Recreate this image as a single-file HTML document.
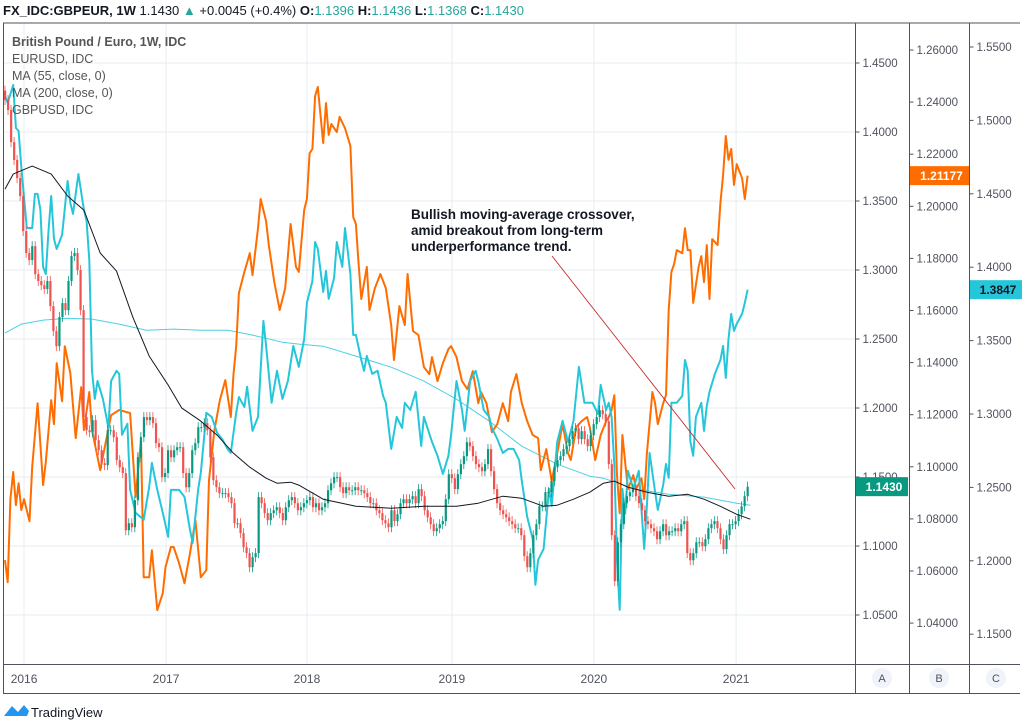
<!DOCTYPE html>
<html><head><meta charset="utf-8"><style>
html,body{margin:0;padding:0;background:#fff;}
svg{display:block;font-family:"Liberation Sans",sans-serif;}
</style></head><body>
<svg id="chart" width="1024" height="723" viewBox="0 0 1024 723">
<g id="grid"></g>
<g id="series"></g>
<g id="frame">
 <line x1="3" y1="23" x2="1020" y2="23" stroke="#50535e"/>
 <line x1="3.5" y1="23" x2="3.5" y2="693" stroke="#50535e"/>
 <line x1="855.5" y1="23" x2="855.5" y2="693" stroke="#50535e"/>
 <line x1="909.5" y1="23" x2="909.5" y2="693" stroke="#50535e"/>
 <line x1="969.5" y1="23" x2="969.5" y2="693" stroke="#50535e"/>
 <line x1="3" y1="664.5" x2="1020" y2="664.5" stroke="#50535e"/>
 <line x1="3" y1="693.5" x2="1020" y2="693.5" stroke="#50535e"/>
</g>
<g id="axes"></g>
<text x="3" y="15" font-size="13" fill="#131722"><tspan font-weight="bold">FX_IDC:GBPEUR, 1W</tspan> 1.1430 <tspan fill="#26a69a">▲</tspan> +0.0045 (+0.4%) <tspan font-weight="bold">O:</tspan><tspan fill="#26a69a">1.1396</tspan> <tspan font-weight="bold">H:</tspan><tspan fill="#26a69a">1.1436</tspan> <tspan font-weight="bold">L:</tspan><tspan fill="#26a69a">1.1368</tspan> <tspan font-weight="bold">C:</tspan><tspan fill="#26a69a">1.1430</tspan></text>
<g font-size="12.5" fill="#555">
 <text x="12" y="46" font-weight="bold">British Pound / Euro, 1W, IDC</text>
 <text x="12" y="63">EURUSD, IDC</text>
 <text x="12" y="80">MA (55, close, 0)</text>
 <text x="12" y="97">MA (200, close, 0)</text>
 <text x="12" y="114">GBPUSD, IDC</text>
</g>
<g font-size="13.5" font-weight="bold" fill="#131722">
 <text x="411" y="219">Bullish moving-average crossover,</text>
 <text x="411" y="235">amid breakout from long-term</text>
 <text x="411" y="251">underperformance trend.</text>
 <line x1="552" y1="256" x2="735" y2="489" stroke="#c62828" stroke-width="0.9"/>
</g>
<g font-size="11" fill="#50535e" text-anchor="middle">
 <circle cx="882" cy="678" r="10" fill="#f0f3fa"/><text x="882" y="682">A</text>
 <circle cx="939" cy="678" r="10" fill="#f0f3fa"/><text x="939" y="682">B</text>
 <circle cx="996" cy="678" r="10" fill="#f0f3fa"/><text x="996" y="682">C</text>
</g>
<g>
 <path d="M4 716 L12 706 L18 712 L24 705 L29 711 L27 716 Z" fill="#2196f3"/>
 <text x="31" y="717" font-size="13" fill="#131722">TradingView</text>
</g>
</svg>
<script>
// ---- data ----
const yearLabels = ["2016","2017","2018","2019","2020","2021"];
const yearWeeks = [7,59.2,111,164.3,216.5,268.8];
const ticksA = [1.45,1.40,1.35,1.30,1.25,1.20,1.15,1.10,1.05];
const ticksB = [1.26,1.24,1.22,1.20,1.18,1.16,1.14,1.12,1.10,1.08,1.06,1.04];
const ticksC = [1.55,1.50,1.45,1.40,1.35,1.30,1.25,1.20,1.15];
const gbpeurCloses = [1.4232,1.4159,1.3927,1.3797,1.3666,1.3536,1.3282,1.3123,1.3072,1.3173,1.2970,1.2920,1.2890,1.2862,1.2920,1.2738,1.2557,1.2448,1.2659,1.2760,1.2709,1.2920,1.3101,1.3123,1.2999,1.2709,1.1934,1.1839,1.1825,1.1912,1.1767,1.1694,1.1600,1.1586,1.1839,1.1839,1.1789,1.1622,1.1571,1.1528,1.1114,1.1165,1.1136,1.1332,1.1643,1.1789,1.1934,1.1912,1.1934,1.1890,1.1745,1.1716,1.1499,1.1528,1.1694,1.1643,1.1694,1.1716,1.1716,1.1528,1.1426,1.1528,1.1694,1.1745,1.1861,1.1861,1.1890,1.1839,1.1643,1.1477,1.1426,1.1383,1.1383,1.1383,1.1354,1.1310,1.1165,1.1165,1.1093,1.0991,1.0948,1.0846,1.0919,1.0948,1.1354,1.1310,1.1238,1.1187,1.1238,1.1259,1.1281,1.1238,1.1187,1.1281,1.1332,1.1354,1.1310,1.1259,1.1281,1.1310,1.1332,1.1354,1.1281,1.1310,1.1259,1.1281,1.1310,1.1404,1.1455,1.1499,1.1499,1.1426,1.1383,1.1426,1.1404,1.1404,1.1426,1.1404,1.1404,1.1383,1.1354,1.1310,1.1310,1.1259,1.1238,1.1187,1.1165,1.1136,1.1259,1.1180,1.1230,1.1310,1.1339,1.1310,1.1339,1.1361,1.1310,1.1412,1.1361,1.1259,1.1208,1.1158,1.1107,1.1129,1.1158,1.1180,1.1339,1.1520,1.1491,1.1412,1.1520,1.1593,1.1651,1.1752,1.1723,1.1651,1.1593,1.1571,1.1542,1.1593,1.1702,1.1542,1.1412,1.1310,1.1259,1.1230,1.1208,1.1180,1.1158,1.1129,1.1129,1.1078,1.0926,1.0846,1.0948,1.1078,1.1158,1.1288,1.1288,1.1390,1.1390,1.1470,1.1571,1.1622,1.1651,1.1702,1.1723,1.1774,1.1832,1.1854,1.1774,1.1832,1.1774,1.1723,1.1803,1.1883,1.1934,1.1984,1.1955,1.1904,1.1593,1.1078,1.0745,1.1027,1.1158,1.1310,1.1361,1.1390,1.1412,1.1361,1.1310,1.1259,1.1180,1.1158,1.1129,1.1107,1.1049,1.1107,1.1158,1.1078,1.1107,1.1107,1.1129,1.1107,1.1158,1.1180,1.0948,1.0897,1.0948,1.1027,1.1027,1.0998,1.1049,1.1129,1.1158,1.1180,1.1129,1.1049,1.0977,1.1078,1.1158,1.1158,1.1180,1.1230,1.1288,1.1361,1.1430];
const gbpeurFirstOpen = 1.4300;
const eurusdWeeks = [0,1,2,3,4,5,6,7,9,10,12,14,15,17,18,19,21,22,24,26,28,29,31,32,35,39,42,46,48,50,51,53,54,56,58,59,61,62,64,66,68,70,72,74,75,77,79,81,83,84,85,86,88,90,91,93,94,96,97,99,101,103,105,107,108,110,111,112,113,114,115,117,118,119,120,122,123,125,127,128,129,130,131,133,134,136,138,140,142,143,145,147,148,150,152,154,156,157,159,161,163,164,166,168,170,172,174,175,177,179,181,183,185,186,188,190,192,194,196,197,199,201,203,205,207,208,210,212,214,215,217,219,221,222,223,224,225,226,227,229,231,232,234,235,236,238,239,240,242,243,244,245,246,247,249,250,251,252,253,255,256,257,258,259,260,262,263,264,265,266,267,268,269,271,272,273];
const eurusdValues = [1.0642,1.0557,1.0876,1.0980,1.0853,1.0937,1.0834,1.0876,1.0791,1.0999,1.1244,1.0930,1.1018,1.1256,1.1164,1.1398,1.1252,1.1463,1.1360,1.1110,1.1306,1.1141,1.1287,1.1141,1.0987,1.1198,1.1218,1.1206,1.0884,1.1102,1.0576,1.0576,1.0680,1.0450,1.0515,1.0615,1.0692,1.0692,1.0630,1.0553,1.0668,1.0795,1.0576,1.0603,1.0949,1.1141,1.1256,1.1333,1.1191,1.1356,1.1463,1.1667,1.1748,1.1820,1.1736,1.1916,1.2028,1.1943,1.1851,1.1709,1.1602,1.1686,1.1932,1.1767,1.1748,1.1986,1.2028,1.2204,1.2220,1.2423,1.2458,1.2243,1.2396,1.2274,1.2316,1.2285,1.2343,1.2300,1.2231,1.1959,1.1932,1.1778,1.1644,1.1767,1.1602,1.1686,1.1740,1.1686,1.1544,1.1410,1.1617,1.1544,1.1740,1.1521,1.1506,1.1383,1.1356,1.1421,1.1329,1.1398,1.1452,1.1463,1.1421,1.1329,1.1298,1.1367,1.1244,1.1287,1.1244,1.1133,1.1164,1.1244,1.1175,1.1287,1.1356,1.1244,1.1175,1.1122,1.1110,1.0987,1.1068,1.0945,1.1052,1.1164,1.1052,1.1026,1.1152,1.1175,1.1191,1.1152,1.1026,1.1122,1.1175,1.1191,1.1218,1.1275,1.0968,1.0822,1.1122,1.0914,1.0968,1.0914,1.0956,1.0876,1.1052,1.1287,1.1244,1.1164,1.1244,1.1275,1.1602,1.1748,1.1778,1.1832,1.1820,1.1916,1.1832,1.1832,1.1629,1.1767,1.1809,1.1709,1.1851,1.1644,1.1874,1.1851,1.2012,1.2120,1.2270,1.2178,1.2220,1.2082,1.2162,1.2108,1.2028,1.2118];
const gbpusdWeeks = [0,1,3,4,5,6,8,10,11,12,13,14,15,16,17,18,19,21,23,24,25,27,29,30,31,32,33,34,36,38,39,41,42,43,45,46,48,51,53,54,56,58,60,61,62,64,66,68,69,71,72,73,74,76,78,80,82,83,85,86,88,89,91,93,95,96,98,100,102,104,106,108,110,111,113,114,115,117,118,119,121,122,124,125,127,128,129,131,132,133,135,137,139,140,142,144,146,147,149,151,153,154,157,159,161,163,164,166,168,169,171,173,174,176,178,179,181,183,185,187,189,190,192,194,195,196,198,200,201,203,205,207,209,211,213,214,216,218,219,221,222,223,224,225,226,227,228,229,231,233,235,236,237,239,240,242,243,244,245,247,249,250,251,252,253,254,256,257,258,259,261,263,264,265,266,267,268,269,271,272,273];
const gbpusdValues = [1.5166,1.5119,1.5241,1.4948,1.4928,1.4683,1.4267,1.4267,1.4499,1.4499,1.4390,1.4002,1.3954,1.4247,1.4485,1.4193,1.4124,1.4220,1.4587,1.4438,1.4363,1.4635,1.4390,1.4315,1.4049,1.3294,1.3103,1.3225,1.3103,1.2905,1.3225,1.3294,1.3273,1.2858,1.2933,1.2483,1.2327,1.2279,1.2504,1.2667,1.2483,1.2327,1.2163,1.2483,1.2483,1.2483,1.2435,1.2211,1.2122,1.2483,1.2599,1.2803,1.3008,1.2980,1.2871,1.2824,1.2756,1.2735,1.3008,1.3116,1.3048,1.3185,1.2885,1.2980,1.3634,1.3464,1.3076,1.3294,1.3103,1.3225,1.3464,1.3321,1.3511,1.3757,1.3906,1.4172,1.4124,1.3832,1.3975,1.3784,1.3927,1.4172,1.4002,1.4267,1.3954,1.3539,1.3539,1.3368,1.3294,1.3396,1.3273,1.3294,1.3123,1.3076,1.2762,1.2980,1.2905,1.3076,1.3028,1.3151,1.2783,1.2980,1.2810,1.2715,1.2592,1.2715,1.2858,1.3225,1.3028,1.2885,1.3225,1.3294,1.3225,1.3028,1.2980,1.2905,1.2830,1.2735,1.2762,1.2762,1.2687,1.2544,1.2299,1.2149,1.1836,1.2006,1.2081,1.2490,1.2374,1.2810,1.2953,1.2810,1.2953,1.3321,1.3076,1.3076,1.3076,1.3001,1.3198,1.3028,1.3076,1.2980,1.2660,1.2006,1.1666,1.2490,1.2320,1.2613,1.2490,1.2613,1.2081,1.2374,1.2735,1.2469,1.2347,1.2517,1.2660,1.2565,1.3076,1.3076,1.3123,1.3368,1.3294,1.2810,1.2715,1.2980,1.3076,1.2885,1.3055,1.3151,1.3273,1.3368,1.3464,1.3246,1.3511,1.3682,1.3566,1.3614,1.3682,1.3757,1.3847];
const ma55Weeks = [0,3,10,17,23,29,35,41,47,53,60,65,72,78,84,90,96,100,105,108,117,129,142,154,166,174,183,190,198,203,209,215,220,224,229,236,244,251,257,263,269,274];
const ma55Values = [1.3586,1.3695,1.3753,1.3695,1.3536,1.3434,1.3123,1.2992,1.2659,1.2376,1.2166,1.1999,1.1905,1.1803,1.1672,1.1571,1.1491,1.1455,1.1462,1.1441,1.1339,1.1288,1.1274,1.1288,1.1288,1.1310,1.1361,1.1346,1.1288,1.1296,1.1339,1.1390,1.1455,1.1470,1.1426,1.1390,1.1361,1.1375,1.1339,1.1288,1.1230,1.1194];
const ma200Weeks = [0,6,14,23,32,42,52,62,72,82,91,102,108,117,129,142,154,166,178,190,203,215,220,232,244,257,269,274];
const ma200Values = [1.2543,1.2608,1.2637,1.2651,1.2644,1.2608,1.2564,1.2572,1.2564,1.2564,1.2528,1.2477,1.2463,1.2448,1.2376,1.2296,1.2195,1.2064,1.1905,1.1723,1.1593,1.1506,1.1491,1.1412,1.1375,1.1354,1.1310,1.1296];
const lastLabels = {a:"1.1430", b:"1.21177", c:"1.3847"};

// ---- scales ----
const NS="http://www.w3.org/2000/svg";
const xW = w => 5 + w*2.72;
const yA = v => 63 + (1.45 - v)*1380;
const yB = v => 50 + (1.26 - v)*2605;
const yC = v => 47 + (1.55 - v)*1468;
function mk(tag, attrs, parent){const e=document.createElementNS(NS,tag);for(const k in attrs)e.setAttribute(k,attrs[k]);parent.appendChild(e);return e;}
const grid=document.getElementById('grid'), ser=document.getElementById('series'), axes=document.getElementById('axes');

ticksA.forEach(v=>{const l=mk('line',{x1:4,x2:855,y1:yA(v),y2:yA(v),stroke:'#e6edf2'},grid);

});
yearWeeks.forEach((w,i)=>{const l=mk('line',{x1:xW(w),x2:xW(w),y1:24,y2:664,stroke:'#e6edf2'},grid);


const t=mk('text',{x:xW(w),y:683,'font-size':12,fill:'#50535e','text-anchor':'middle'},axes);t.textContent=yearLabels[i];

});

function axis(ticks, fy, x0, dec){ticks.forEach(v=>{
 const y=fy(v);
 mk('line',{x1:x0,x2:x0+4,y1:y,y2:y,stroke:'#50535e'},axes);
 const t=mk('text',{x:x0+7,y:y+4,'font-size':11.5,fill:'#50535e'},axes);t.textContent=v.toFixed(dec);
 
 
});}
axis(ticksA,yA,855.5,4);axis(ticksB,yB,909.5,5);axis(ticksC,yC,969.5,4);

function line(ws, vs, fy, color, width, name){
 const d=ws.map((w,i)=>(i?'L':'M')+xW(w).toFixed(1)+' '+fy(vs[i]).toFixed(1)).join(' ');
 const p=mk('path',{d:d,fill:'none',stroke:color,'stroke-width':width,'stroke-linejoin':'round'},ser);
 
 
}
line(ma200Weeks,ma200Values,yA,'#4dd0e1',1,'ma200-line');
line(eurusdWeeks,eurusdValues,yB,'#ff6d00',2,'eurusd-line');
line(gbpusdWeeks,gbpusdValues,yC,'#26c6da',2,'gbpusd-line');

// candles
const n=gbpeurCloses.length, span=273/(n-1);
gbpeurCloses.forEach((c,i)=>{
 const o=i?gbpeurCloses[i-1]:gbpeurFirstOpen;
 const x=xW(i*span), up=c>=o, col=up?'#089981':'#ef5350';
 const y1=yA(Math.max(o,c)), y2=yA(Math.min(o,c));
 const g=mk('g',{},ser);
 
 
 mk('line',{x1:x,x2:x,y1:y1-5,y2:y2+5,stroke:col,'stroke-width':0.8},g);
 mk('rect',{x:x-1,y:y1,width:2.2,height:Math.max(1,y2-y1),fill:col},g);
});
line(ma55Weeks,ma55Values,yA,'#131722',1,'ma55-line');

// last-value labels
function tag(x,y,w,bg,fg,txt,name){const g=mk('g',{},axes);
 
 
 mk('rect',{x:x,y:y-9.5,width:w,height:19,fill:bg},g);
 const t=mk('text',{x:x+w/2+2,y:y+4.5,'font-size':12,'font-weight':'bold',fill:fg,'text-anchor':'middle'},g);t.textContent=txt;}
tag(856,yA(parseFloat(lastLabels.a)),52,'#089981','#fff',lastLabels.a,'gbpeur-last-label');
tag(910,yB(parseFloat(lastLabels.b)),59,'#ff6d00','#fff',lastLabels.b,'eurusd-last-label');
tag(970,yC(parseFloat(lastLabels.c)),52,'#26c6da','#131722',lastLabels.c,'gbpusd-last-label');
</script>
</body></html>
